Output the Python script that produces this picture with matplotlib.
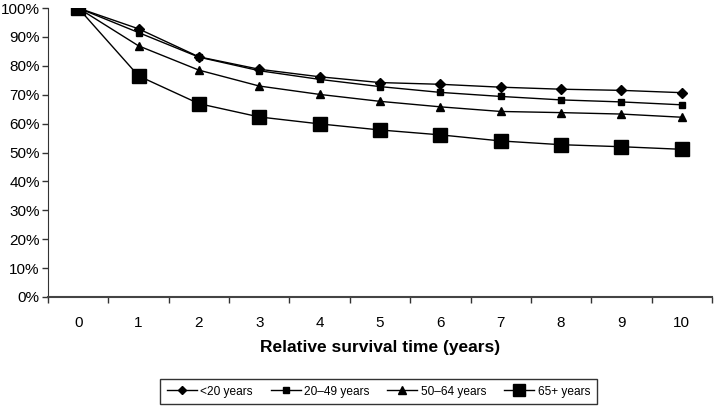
import matplotlib.pyplot as plt
from matplotlib.ticker import FixedLocator, FuncFormatter

plt.rcParams['font.family'] = ['Liberation Sans', 'DejaVu Sans']

years = list(range(11))
under20 = [100, 92.8, 83.1, 78.8, 76.2, 74.2, 73.6, 72.6, 71.9, 71.5, 70.7]
age20_49 = [100, 91.5, 83.0, 78.3, 75.3, 72.8, 70.8, 69.4, 68.2, 67.5, 66.5]
age50_64 = [100, 86.9, 78.5, 73.0, 70.1, 67.7, 65.8, 64.2, 63.8, 63.3, 62.2]
age65 = [100, 76.5, 66.9, 62.3, 59.9, 57.8, 56.1, 54.0, 52.7, 52.0, 51.1]
labels = ['<20 years', '20\u201349 years', '50\u201364 years', '65+ years']

my_dpi = 100
fig = plt.figure(figsize=(714 / my_dpi, 407 / my_dpi), dpi=my_dpi)
ax = fig.add_axes([48 / 714, 110 / 407, 664 / 714, 289 / 407])

series = [(under20, 'D', 5.0), (age20_49, 's', 5.0),
          (age50_64, '^', 6.0), (age65, 's', 9.5)]
for (vals, mk, ms), lab in zip(series, labels):
    ax.plot(years, vals, color='black', lw=1.0, marker=mk, markersize=ms,
            markerfacecolor='black', markeredgecolor='black', label=lab)

ax.set_xlim(-0.5, 10.5)
ax.set_ylim(0, 100)
ax.set_yticks(range(0, 101, 10))
ax.yaxis.set_major_formatter(FuncFormatter(lambda v, p: '{:.0f}%'.format(v)))
ax.set_xticks(years)
ax.set_xticklabels([str(y) for y in years])
ax.xaxis.set_minor_locator(FixedLocator([y - 0.5 for y in range(12)]))
ax.tick_params(axis='x', which='major', length=0, pad=14, labelsize=11)
ax.tick_params(axis='x', which='minor', length=4, width=1, color='#333333')
ax.tick_params(axis='y', length=4, width=1, color='#333333', labelsize=11, pad=2)

ax.spines['top'].set_visible(False)
ax.spines['right'].set_visible(False)
ax.spines['left'].set_color('#333333')
ax.spines['bottom'].set_color('#444444')
ax.spines['bottom'].set_linewidth(1.5)

ax.set_xlabel('Relative survival time (years)', fontsize=12.5, fontweight='bold', labelpad=7)

leg = fig.legend(loc='center', bbox_to_anchor=(0.530, 0.038), ncol=4,
                 fontsize=8.6, frameon=True, fancybox=False, handlelength=2.5,
                 columnspacing=1.5, handletextpad=0.3, borderpad=0.55,
                 markerscale=0.85)
leg.get_frame().set_edgecolor('black')
leg.get_frame().set_linewidth(1.0)

plt.savefig('out.png', dpi=my_dpi)
